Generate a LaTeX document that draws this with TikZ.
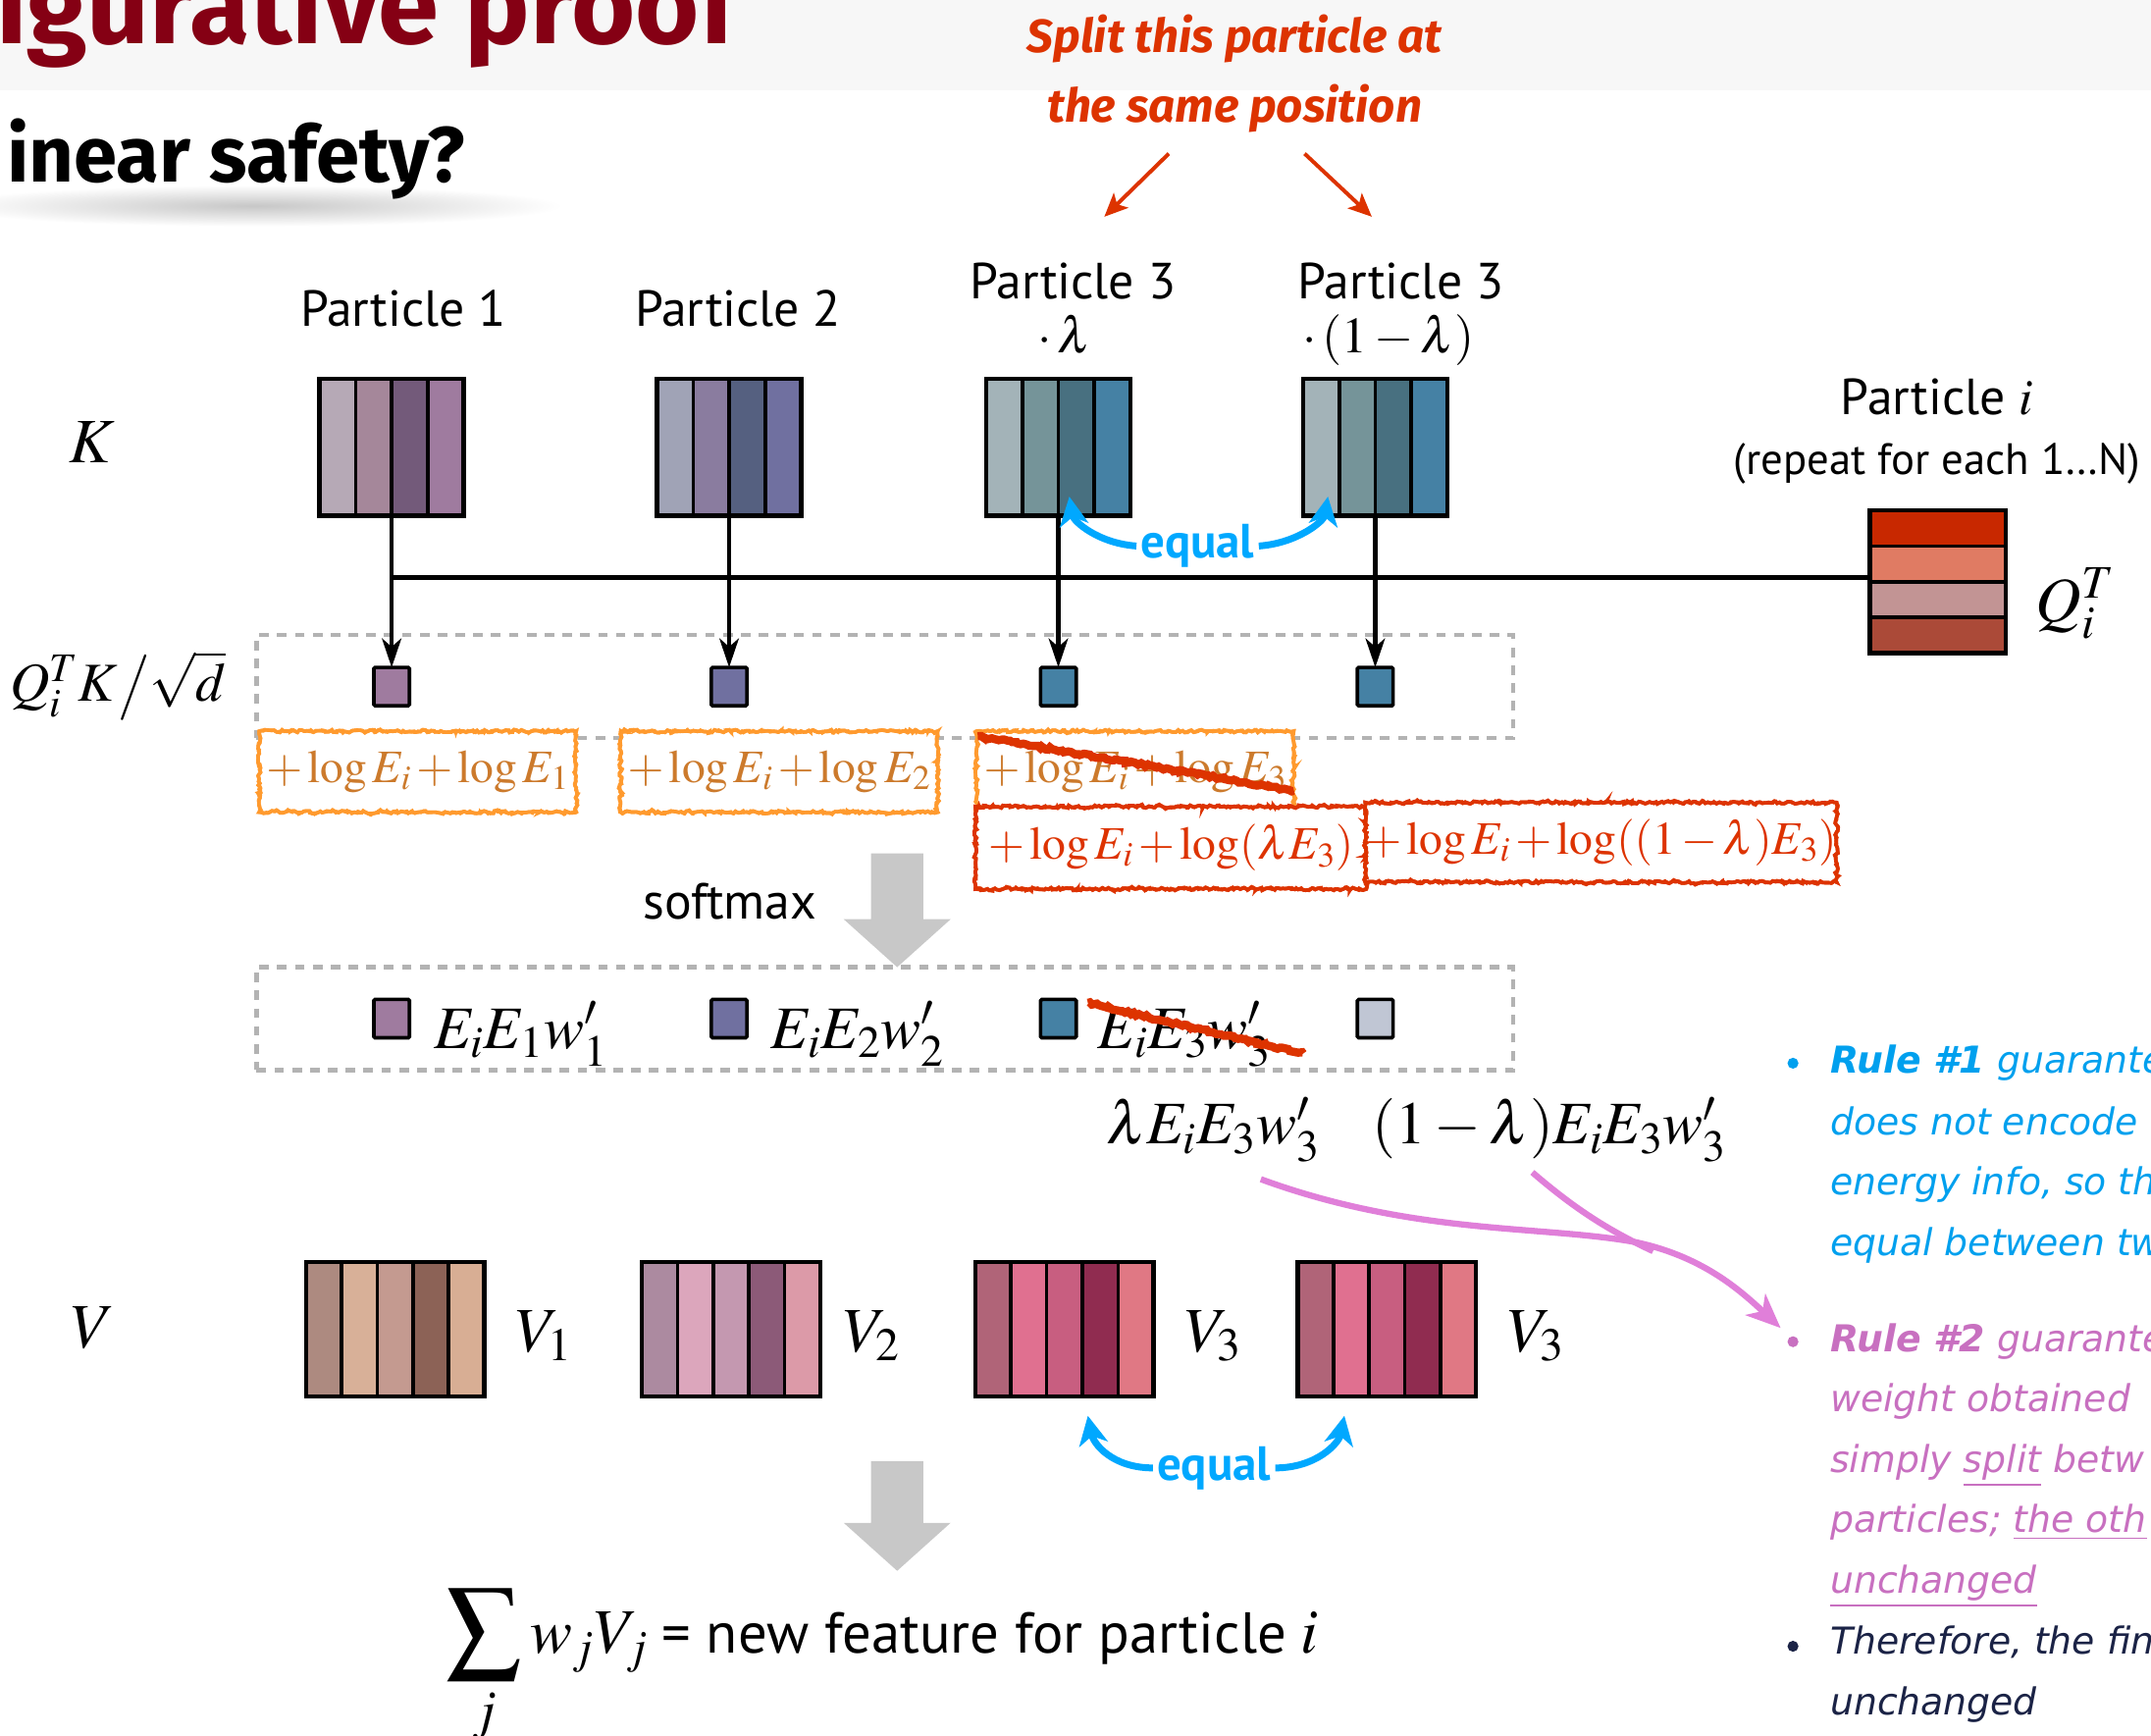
\documentclass[tikz,border=0pt]{standalone}
\usepackage{mathptmx}
\usepackage[no-math]{fontspec}
\usetikzlibrary{arrows.meta,decorations.pathmorphing,calc}

\newfontfamily\labfont{PT Sans}
\newfontfamily\headfont{Fira Sans}
\newfontfamily\notefont{DejaVu Sans}
\newcommand\fsz[1]{\fontsize{#1}{#1}\selectfont}
\newcommand\tightmath{\medmuskip=2mu\thickmuskip=3mu\thinmuskip=2mu}

\definecolor{bandgray}{HTML}{F7F7F7}
\definecolor{titlered}{HTML}{850014}
\definecolor{splitred}{HTML}{DD3300}
\definecolor{eqblue}{HTML}{00A8FF}
\definecolor{dashgray}{HTML}{B3B3B3}
\definecolor{arrowgray}{HTML}{C8C8C8}
\definecolor{boxorange}{HTML}{FF9A2E}
\definecolor{logbrown}{HTML}{CC7A2C}
\definecolor{boxred}{HTML}{DD3300}
\definecolor{pinkarr}{HTML}{E07FD9}
\definecolor{ruleone}{HTML}{00A0EE}
\definecolor{ruletwo}{HTML}{C870C0}
\definecolor{rulethree}{HTML}{1B2346}
% key stripes
\definecolor{ka1}{HTML}{B6A9B6}\definecolor{ka2}{HTML}{A5879A}\definecolor{ka3}{HTML}{735A7A}\definecolor{ka4}{HTML}{9F7B9F}
\definecolor{kb1}{HTML}{A0A3B6}\definecolor{kb2}{HTML}{8A7C9F}\definecolor{kb3}{HTML}{556080}\definecolor{kb4}{HTML}{7070A0}
\definecolor{kc1}{HTML}{A3B3B8}\definecolor{kc2}{HTML}{759499}\definecolor{kc3}{HTML}{487080}\definecolor{kc4}{HTML}{4581A4}
\definecolor{lightsq}{HTML}{C0C6D4}
% query stripes
\definecolor{q1}{HTML}{C82800}\definecolor{q2}{HTML}{E07B63}\definecolor{q3}{HTML}{C29494}\definecolor{q4}{HTML}{AB4A38}
% value stripes
\definecolor{va1}{HTML}{AD8A80}\definecolor{va2}{HTML}{D8B098}\definecolor{va3}{HTML}{C49A90}\definecolor{va4}{HTML}{8C6256}\definecolor{va5}{HTML}{D8AE94}
\definecolor{vb1}{HTML}{AC8AA0}\definecolor{vb2}{HTML}{DCA6BC}\definecolor{vb3}{HTML}{C498B0}\definecolor{vb4}{HTML}{8C5A78}\definecolor{vb5}{HTML}{DC9AA8}
\definecolor{vc1}{HTML}{B06478}\definecolor{vc2}{HTML}{E07090}\definecolor{vc3}{HTML}{C85E80}\definecolor{vc4}{HTML}{902C50}\definecolor{vc5}{HTML}{E07884}

% block of vertical stripes: name, left, top, width, height, count, colours
\newcommand\vstripeblock[7]{%
  \foreach \c [count=\k from 0] in {#7}
    \fill[\c] ({#2+\k*#4/#6},{#3}) rectangle ({#2+(\k+1)*#4/#6},{#3+#5});
  \foreach \k in {1,...,#6}
    \draw[stripesep] ({#2+\k*#4/#6},{#3}) -- ({#2+\k*#4/#6},{#3+#5});
  \node[blockframe, anchor=north west, minimum width=#4pt, minimum height=#5pt] (#1) at (#2,#3) {};
}
% block of horizontal stripes: name, left, top, width, height, count, colours
\newcommand\hstripeblock[7]{%
  \foreach \c [count=\k from 0] in {#7}
    \fill[\c] ({#2},{#3+\k*#5/#6}) rectangle ({#2+#4},{#3+(\k+1)*#5/#6});
  \foreach \k in {1,...,#6}
    \draw[stripesep] ({#2},{#3+\k*#5/#6}) -- ({#2+#4},{#3+\k*#5/#6});
  \node[blockframe, anchor=north west, minimum width=#4pt, minimum height=#5pt] (#1) at (#2,#3) {};
}

\begin{document}
\begin{tikzpicture}[x=1pt,y=-1pt,
  blockframe/.style={draw=black, line width=3.2pt, inner sep=0, outer sep=0},
  stripesep/.style={black, line width=2.6pt},
  score/.style={draw=black, line width=2.6pt, minimum width=26pt, minimum height=28pt, inner sep=0, outer sep=0, rounded corners=1pt},
  dashframe/.style={draw=dashgray, line width=3pt, dash pattern=on 7pt off 6pt, inner sep=0},
  conn/.style={line width=3.4pt, black},
  kin/.style={conn, -{Stealth[length=21pt, width=14pt, inset=6pt]}},
  sketch/.style={decorate, decoration={random steps, segment length=2pt, amplitude=1pt}},
  sketchtwice/.style={sketch, postaction={draw, decorate, decoration={random steps, segment length=1.5pt, amplitude=1.1pt}}},
  obox/.style={sketchtwice, draw=boxorange, line width=2.6pt, fill=white, minimum width=231pt, minimum height=59pt, inner sep=0, text=logbrown, font=\fsz{34}\tightmath},
  rbox/.style={sketchtwice, draw=boxred, line width=2.6pt, fill=white, inner sep=0, text=boxred, font=\fsz{34}\tightmath},
  strike/.style={sketch, draw=boxred, line width=6pt},
  bigarrow/.style={fill=arrowgray},
  plabel/.style={font=\labfont\fsz{37}, inner sep=0},
  mathlab/.style={font=\fsz{46}, inner sep=0},
  wlab/.style={font=\fsz{44}, inner sep=0},
  eqlab/.style={font=\labfont\bfseries\fsz{35}, text=eqblue, inner sep=3pt},
  eqarrow/.style={draw=eqblue, line width=5pt, -{Stealth[length=21pt, width=21pt, inset=6pt]}},
  splitlab/.style={font=\headfont\bfseries\itshape\fsz{34}, text=splitred, anchor=base, inner sep=0},
  splitarrow/.style={draw=splitred, line width=2.8pt, -{Stealth[length=17pt, width=15pt, inset=4pt]}},
  pinkline/.style={draw=pinkarr, line width=4.5pt},
  pinkarrow/.style={pinkline, -{Stealth[length=25pt, width=21pt, inset=7pt]}},
  bullet/.style={circle, inner sep=0, minimum size=8pt},
  note/.style={font=\notefont\itshape\fsz{27}, anchor=base west, inner sep=0},
]
\useasboundingbox (0,0) rectangle (1568,1265);
\fill[white] (0,0) rectangle (1568,1265);
\fill[bandgray] (0,0) rectangle (1568,66);

% headings
\node[anchor=base west, inner sep=0, text=titlered, font=\headfont\bfseries\fsz{80}] (title) at (-3,32) {igurative proof};
\shade[shading=radial, inner color=black!22, outer color=white] (185,150) ellipse [x radius=225, y radius=15];
\node[anchor=base west, inner sep=0, font=\headfont\bfseries\fsz{57}] (subtitle) at (5,133) {inear safety?};

% splitting note
\node[splitlab] (split1) at (900,38) {Split this particle at};
\node[splitlab] (split2) at (900,89) {the same position};
\coordinate (splitL) at (852,112);
\coordinate (splitR) at (951,112);
\coordinate (p3aIn) at (805,158);
\coordinate (p3bIn) at (1000,158);
\draw[splitarrow] (splitL) -- (p3aIn);
\draw[splitarrow] (splitR) -- (p3bIn);

% particle labels
\node[plabel, anchor=base] (lp1) at (294,238) {Particle 1};
\node[plabel, anchor=base] (lp2) at (538,238) {Particle 2};
\node[plabel, anchor=base] (lp3a) at (782,218) {Particle 3};
\node[plabel, anchor=base] (lp3am) at (776,257) {$\cdot\,\lambda$};
\node[plabel, anchor=base] (lp3b) at (1021,218) {Particle 3};
\node[plabel, anchor=base] (lp3bm) at (1012,257) {$\cdot\,(1-\lambda)$};
\node[plabel, anchor=base] (lpi) at (1412,302) {Particle $i$};
\node[plabel, anchor=base, font=\labfont\fsz{32}] (lrep) at (1412,346) {(repeat for each 1\ldots N)};

% keys and query
\vstripeblock{k1}{233}{276}{105}{100}{4}{ka1,ka2,ka3,ka4}
\vstripeblock{k2}{479}{276}{105}{100}{4}{kb1,kb2,kb3,kb4}
\vstripeblock{k3}{719}{276}{105}{100}{4}{kc1,kc2,kc3,kc4}
\vstripeblock{k4}{950}{276}{105}{100}{4}{kc1,kc2,kc3,kc4}
\hstripeblock{q}{1363}{372}{99}{104}{4}{q1,q2,q3,q4}

\node[mathlab] (lk) at (67,322) {$K$};
\node[mathlab, anchor=west] (lq) at (1484,440) {$Q_i^T$};
\node[mathlab, font=\fsz{40}] (lqk) at (86,500) {$Q_i^T K\big/\sqrt{d}$};

% attention score row
\node[dashframe, minimum width=916pt, minimum height=75pt] (srow) at (645,500.5) {};
\node[score, fill=ka4] (s1) at (k1.south |- srow) {};
\node[score, fill=kb4] (s2) at (k2.south |- srow) {};
\node[score, fill=kc4] (s3) at (k3.south |- srow) {};
\node[score, fill=kc4] (s4) at (k4.south |- srow) {};

\coordinate (bus) at (0,421);
\draw[conn] (k1.south |- bus) -- (q.west |- bus);
\foreach \i in {1,...,4} \draw[kin] (k\i.south) -- (s\i.north);

% equal keys
\node[eqlab] (eq1) at (873,398) {equal};
\draw[eqarrow] (eq1.west) .. controls +(-28,-2) and +(3,18) .. ([shift={(8,-14)}]k3.south);
\draw[eqarrow] (eq1.east) .. controls +(28,-2) and +(-3,18) .. ([shift={(18,-14)}]k4.south west);

% energy terms
\node[obox] (ob1) at (304.5,562.5) {$+\log E_i+\log E_1$};
\node[obox] (ob2) at (568,562.5) {$+\log E_i+\log E_2$};
\node[obox] (ob3) at (827.5,562.5) {$+\log E_i+\log E_3$};
\draw[strike] ([shift={(2,5)}]ob3.north west) -- ([shift={(-1,14)}]ob3.east);
\node[rbox, minimum width=285pt, minimum height=60pt] (rb1) at (853.5,618) {$+\log E_i+\log(\lambda E_3)$};
\node[rbox, minimum width=340pt, minimum height=58pt] (rb2) at (1167,614) {$+\log E_i+\log((1-\lambda)E_3)$};

% softmax
\fill[bigarrow] (635,622) -- (673,622) -- (673,670) -- (693,670) -- (654,705) -- (615,670) -- (635,670) -- cycle;
\node[plabel] (smax) at (532,657) {softmax};

% weight row
\node[dashframe, minimum width=916pt, minimum height=75pt] (wrow) at (645,742.5) {};
\node[score, fill=ka4] (w1) at (s1 |- wrow) {};
\node[score, fill=kb4] (w2) at (s2 |- wrow) {};
\node[score, fill=kc4] (w3) at (s3 |- wrow) {};
\node[score, fill=lightsq] (w4) at (s4 |- wrow) {};
\node[wlab, anchor=base west] (e1) at (316,764) {$E_iE_1w'_1$};
\node[wlab, anchor=base west] (e2) at (562,764) {$E_iE_2w'_2$};
\node[wlab, anchor=base west] (e3) at (800,764) {$E_iE_3w'_3$};
\draw[strike] (793,731) -- (950,768);
\node[wlab, anchor=base west] (lam) at (806,834) {$\lambda E_iE_3w'_3$};
\node[wlab, anchor=base west] (oml) at (1000,834) {$(1-\lambda)E_iE_3w'_3$};

% values
\node[mathlab] (lv) at (68,968) {$V$};
\vstripeblock{v1}{223}{920}{130}{98}{5}{va1,va2,va3,va4,va5}
\vstripeblock{v2}{468}{920}{130}{98}{5}{vb1,vb2,vb3,vb4,vb5}
\vstripeblock{v3}{711}{920}{130}{98}{5}{vc1,vc2,vc3,vc4,vc5}
\vstripeblock{v4}{946}{920}{130}{98}{5}{vc1,vc2,vc3,vc4,vc5}
\node[mathlab, anchor=base west] (lv1) at (376,985) {$V_1$};
\node[mathlab, anchor=base west] (lv2) at (615,985) {$V_2$};
\node[mathlab, anchor=base west] (lv3) at (864,985) {$V_3$};
\node[mathlab, anchor=base west] (lv4) at (1099,985) {$V_3$};

\node[eqlab] (eq2) at (885,1070) {equal};
\draw[eqarrow] (eq2.west) .. controls +(-30,0) and +(4,20) .. ([shift={(17,14)}]v3.south);
\draw[eqarrow] (eq2.east) .. controls +(30,0) and +(-4,20) .. ([shift={(-31,14)}]v4.south);

% weighted sum
\fill[bigarrow] (635,1065) -- (673,1065) -- (673,1110) -- (693,1110) -- (654,1145) -- (615,1110) -- (635,1110) -- cycle;
\node[anchor=base west, inner sep=0] (sumf) at (325,1205)
  {{\fsz{54}$\displaystyle\sum_j$}\hspace{6pt}{\fsz{46}$w_jV_j$}\hspace{10pt}{\labfont\fsz{42}= new feature for particle}\hspace{10pt}{\fsz{46}$i$}};

% notes
\node[bullet, fill=ruleone] (b1) at (1307,775) {};
\node[bullet, fill=ruletwo] (b2) at (1307,978) {};
\node[bullet, fill=rulethree] (b3) at (1307,1200) {};
\node[note, text=ruleone] (n1a) at (1334,782) {{\bfseries Rule \#1} guarante};
\node[note, text=ruleone] (n1b) at (1334,827) {does not encode};
\node[note, text=ruleone] (n1c) at (1334,871) {energy info, so th};
\node[note, text=ruleone] (n1d) at (1334,915) {equal between tw};
\node[note, text=ruletwo] (n2a) at (1334,985) {{\bfseries Rule \#2} guarante};
\node[note, text=ruletwo] (n2b) at (1334,1029) {weight obtained};
\node[note, text=ruletwo] (n2c) at (1334,1073) {simply \underline{split} betw};
\node[note, text=ruletwo] (n2d) at (1334,1117) {particles; \underline{the oth}};
\node[note, text=ruletwo] (n2e) at (1334,1161) {\underline{unchanged}};
\node[note, text=rulethree] (n3a) at (1334,1206) {Therefore, the fin};
\node[note, text=rulethree] (n3b) at (1334,1250) {unchanged};

% split weight flows into rule 2
\draw[pinkarrow] ([shift={(35,12)}]lam.south) .. controls (1030,900) and (1120,893) .. (1190,905)
  .. controls (1240,915) and (1268,940) .. ([shift={(-9,-10)}]b2.center);
\draw[pinkline] ([shift={(117,7)}]oml.south west) .. controls (1150,883) and (1175,898) .. (1205,912);
\end{tikzpicture}
\end{document}
